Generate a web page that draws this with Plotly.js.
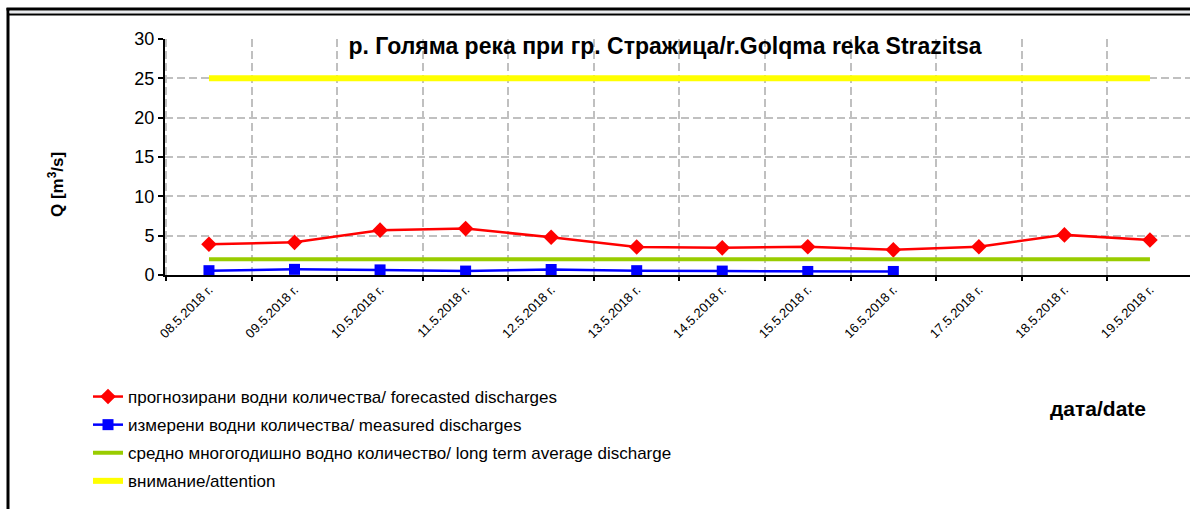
<!DOCTYPE html>
<html>
<head>
<meta charset="utf-8">
<script src="https://cdn.plot.ly/plotly-3.0.1.min.js"></script>
<style>
html,body{margin:0;padding:0;background:#fff;overflow:hidden;}
#chart{width:1190px;height:509px;}
</style>
</head>
<body>
<div id="chart"></div>
<script>
var dates = ['08.5.2018 г.','09.5.2018 г.','10.5.2018 г.','11.5.2018 г.','12.5.2018 г.','13.5.2018 г.','14.5.2018 г.','15.5.2018 г.','16.5.2018 г.','17.5.2018 г.','18.5.2018 г.','19.5.2018 г.'];
var forecasted = [3.9, 4.15, 5.7, 5.9, 4.8, 3.55, 3.45, 3.6, 3.2, 3.6, 5.1, 4.45];
var measured = [0.55, 0.72, 0.65, 0.5, 0.7, 0.55, 0.5, 0.45, 0.45, null, null, null];
var longTermAverage = [2, 2, 2, 2, 2, 2, 2, 2, 2, 2, 2, 2];
var attention = [25, 25, 25, 25, 25, 25, 25, 25, 25, 25, 25, 25];
var yTicks = [0, 5, 10, 15, 20, 25, 30];

var names = {
  forecasted: 'прогнозирани водни количества/ forecasted discharges',
  measured: 'измерени водни количества/ measured discharges',
  average: 'средно многогодишно водно количество/ long term average discharge',
  attention: 'внимание/attention'
};

var FONT = 'Arial, "Liberation Sans", sans-serif';

// pixel -> paper helpers (plot area: x 165..1190, y 39..275)
var L = 165, R = 1190, T = 39, B = 275;
function px(x){ return (x - L) / (R - L); }
function py(y){ return (B - y) / (B - T); }

var traces = [
  {x: dates, y: forecasted, name: names.forecasted, type: 'scatter', mode: 'lines+markers',
   line: {color: '#ff0000', width: 2.5}, marker: {symbol: 'diamond', size: 12, color: '#ff0000'},
   legendgroup: 'a'},
  {x: dates, y: measured, name: names.measured, type: 'scatter', mode: 'lines+markers',
   line: {color: '#0000ff', width: 2.5}, marker: {symbol: 'square', size: 11, color: '#0000ff'},
   legendgroup: 'b'},
  {x: dates, y: longTermAverage, name: names.average, type: 'scatter', mode: 'lines',
   line: {color: '#99cc00', width: 4}, legendgroup: 'c'},
  {x: dates, y: attention, name: names.attention, type: 'scatter', mode: 'lines',
   line: {color: '#ffff00', width: 6}, legendgroup: 'd'}
];

var gridDash = '8px,4px';

var layout = {
  width: 1190, height: 509,
  margin: {l: L, r: 0, t: T, b: 509 - B, pad: 0},
  paper_bgcolor: '#ffffff', plot_bgcolor: '#ffffff',
  font: {family: FONT, color: '#000000'},
  showlegend: true,
  title: {
    text: '<b>р. Голяма река при гр. Стражица/r.Golqma reka Strazitsa</b>',
    font: {family: FONT, size: 23, color: '#000000'},
    x: 665 / 1190, xanchor: 'center', xref: 'container',
    y: 1 - 46 / 509, yanchor: 'middle', yref: 'container'
  },
  xaxis: {
    type: 'category',
    range: [-0.514, 11.468],
    tickson: 'boundaries',
    showgrid: true, gridcolor: '#c0c0c0', gridwidth: 2, griddash: gridDash,
    showline: true, linecolor: '#000000', linewidth: 2,
    ticks: 'outside', ticklen: 4, tickwidth: 2, tickcolor: '#000000',
    tickangle: -45,
    tickfont: {family: FONT, size: 13, color: '#000000'},
    zeroline: false, fixedrange: true
  },
  yaxis: {
    range: [0, 30],
    tickvals: yTicks,
    showgrid: true, gridcolor: '#c0c0c0', gridwidth: 2, griddash: gridDash,
    showline: true, linecolor: '#000000', linewidth: 2,
    ticks: 'outside', ticklen: 5, tickwidth: 2, tickcolor: '#000000',
    tickfont: {family: FONT, size: 18, color: '#000000'},
    zeroline: false, fixedrange: true
  },
  legend: {
    x: px(88), xanchor: 'left', xref: 'paper',
    y: py(379), yanchor: 'top', yref: 'paper',
    orientation: 'v',
    traceorder: 'grouped',
    tracegroupgap: 3,
    font: {family: FONT, size: 17, color: '#000000'},
    bgcolor: 'rgba(0,0,0,0)'
  },
  annotations: [
    {text: '<b>дата/date</b>', xref: 'paper', yref: 'paper', x: px(1098), y: py(408),
     xanchor: 'center', yanchor: 'middle', showarrow: false,
     font: {family: FONT, size: 21, color: '#000000'}},
    {text: '<b>Q [m<sup>3</sup>/s]</b>', xref: 'paper', yref: 'paper', x: px(56), y: py(185),
     xanchor: 'center', yanchor: 'middle', showarrow: false, textangle: -90,
     font: {family: FONT, size: 17, color: '#000000'}}
  ],
  shapes: [
    {type: 'line', xref: 'paper', yref: 'paper', x0: px(8), x1: px(8), y0: py(8), y1: py(515),
     line: {color: '#000000', width: 3}},
    {type: 'line', xref: 'paper', yref: 'paper', x0: px(6.5), x1: px(1195), y0: py(9), y1: py(9),
     line: {color: '#000000', width: 3}},
    {type: 'line', xref: 'paper', yref: 'paper', x0: px(9), x1: px(1195), y0: py(12), y1: py(12),
     line: {color: '#d0d4dc', width: 1}},
    {type: 'line', xref: 'paper', yref: 'paper', x0: px(9), x1: px(1195), y0: py(14.5), y1: py(14.5),
     line: {color: '#000000', width: 2}}
  ]
};

Plotly.newPlot('chart', traces, layout, {displayModeBar: false, staticPlot: true});
</script>
</body>
</html>
